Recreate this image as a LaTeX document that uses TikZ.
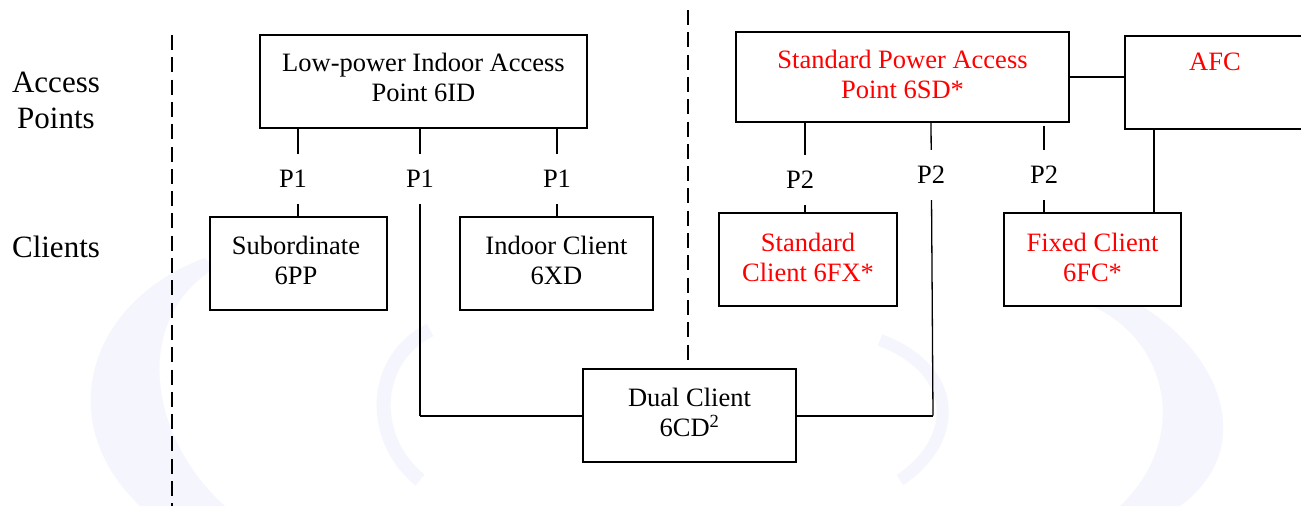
\documentclass[tikz,border=0pt]{standalone}
\usepackage{fontspec}
\setmainfont{Liberation Serif}
\definecolor{wm}{RGB}{245,245,253}
\definecolor{apred}{RGB}{255,0,0}
\begin{document}
\begin{tikzpicture}[x=1pt,y=-1pt,
  every node/.style={font=\fontsize{26.5}{30}\selectfont},
  rowtext/.style={font=\fontsize{31}{36}\selectfont},
  box/.style={draw=black, line width=2pt, fill=white, inner sep=0pt},
  boxtext/.style={align=center, inner sep=0pt},
  conn/.style={draw=black, line width=1.3pt},
  bus/.style={draw=black, line width=2pt},
  plabel/.style={fill=white, minimum width=78pt, minimum height=50pt, inner sep=0pt},
  divider/.style={draw=black, line width=1.5pt, dash pattern=on 15pt off 7.3pt},
  redtext/.style={text=apred}]
\useasboundingbox (0,0) rectangle (1301,506);
\fill[white] (0,0) rectangle (1301,506);
% faint watermark
\fill[wm] (205,258) .. controls (90,300) and (50,420) .. (140,506) -- (225,506) .. controls (150,440) and (130,320) .. (215,268) -- cycle;
\fill[wm] (1085,280) .. controls (1210,320) and (1270,440) .. (1180,506) -- (1120,506) .. controls (1190,440) and (1170,340) .. (1090,305) -- cycle;
\draw[wm, line width=14pt] (430,330) .. controls (370,360) and (370,440) .. (420,480);
\draw[wm, line width=12pt] (880,340) .. controls (960,370) and (960,440) .. (900,480);

% row labels
\node[rowtext] (rowap1) at (56,82) {Access};
\node[rowtext] (rowap2) at (56,118) {Points};
\node[rowtext] (rowcl) at (56,247) {Clients};

% dividers
\coordinate (d1t) at (172,35);
\coordinate (d1b) at (172,506);
\coordinate (d2t) at (688,10);
\coordinate (d2b) at (688,363);
\draw[divider] (d1t) -- (d1b);
\draw[divider] (d2t) -- (d2b);

% boxes
\node[box, minimum width=327pt, minimum height=93pt] (ap1) at (423.5,81.5) {};
\node[box, minimum width=333pt, minimum height=90pt] (ap2) at (902.5,77) {};
\node[box, minimum width=182pt, minimum height=93pt, anchor=north west] (afc) at (1124,35) {};
\node[box, minimum width=177pt, minimum height=93pt] (sub) at (298.5,263.5) {};
\node[box, minimum width=193pt, minimum height=93pt] (ind) at (556.5,263.5) {};
\node[box, minimum width=178pt, minimum height=93pt] (stc) at (808,259.5) {};
\node[box, minimum width=177pt, minimum height=93pt] (fix) at (1092.5,259.5) {};
\node[box, minimum width=213pt, minimum height=93pt] (dual) at (689.5,415.5) {};

% box texts
\node[boxtext] (ap1t) at (423.5,77.5) {Low-power Indoor Access\\Point 6ID};
\node[boxtext, redtext] (ap2t) at (902.5,74.5) {Standard Power Access\\Point 6SD*};
\node[boxtext, redtext] (afct) at (1215,62) {AFC};
\node[boxtext] (subt) at (296,260) {Subordinate\\6PP};
\node[boxtext] (indt) at (556.5,260) {Indoor Client\\6XD};
\node[boxtext, redtext] (stct) at (808,257) {Standard\\Client 6FX*};
\node[boxtext, redtext] (fixt) at (1092.5,257) {Fixed Client\\6FC*};
\node[boxtext] (dualt) at (689.5,412.5) {Dual Client\\6CD\textsuperscript{2}};

% connector anchor points
\coordinate (c1) at (298,0);
\coordinate (c2) at (420,0);
\coordinate (c3) at (557,0);
\coordinate (c4) at (805,0);
\coordinate (c5) at (931,0);
\coordinate (c5b) at (933,0);
\coordinate (c6) at (1044,0);
\coordinate (c7) at (1154,0);

\draw[conn] (ap1.south -| c1) -- (sub.north -| c1);
\draw[conn] (ap1.south -| c2) -- (dual.west -| c2);
\draw[bus] (dual.west -| c2) -- (dual.west);
\draw[conn] (ap1.south -| c3) -- (ind.north -| c3);
\draw[conn] (ap2.south -| c4) -- (stc.north -| c4);
\draw[conn] (ap2.south -| c5) -- (dual.east -| c5b);
\draw[bus] (dual.east -| c5b) -- (dual.east);
\draw[conn] ([yshift=-3pt]ap2.south -| c6) -- (fix.north -| c6);
\draw[bus, line width=2.5pt] (ap2.east) -- (ap2.east -| afc.west);
\draw[conn] (afc.south -| c7) -- (fix.north -| c7);

% protocol labels
\node[plabel] (p1a) at (293,179) {P1};
\node[plabel] (p1b) at (420,179) {P1};
\node[plabel] (p1c) at (557,179) {P1};
\node[plabel] (p2a) at (800,180) {P2};
\node[plabel] (p2b) at (931,175) {P2};
\node[plabel] (p2c) at (1044,175) {P2};
\end{tikzpicture}
\end{document}
